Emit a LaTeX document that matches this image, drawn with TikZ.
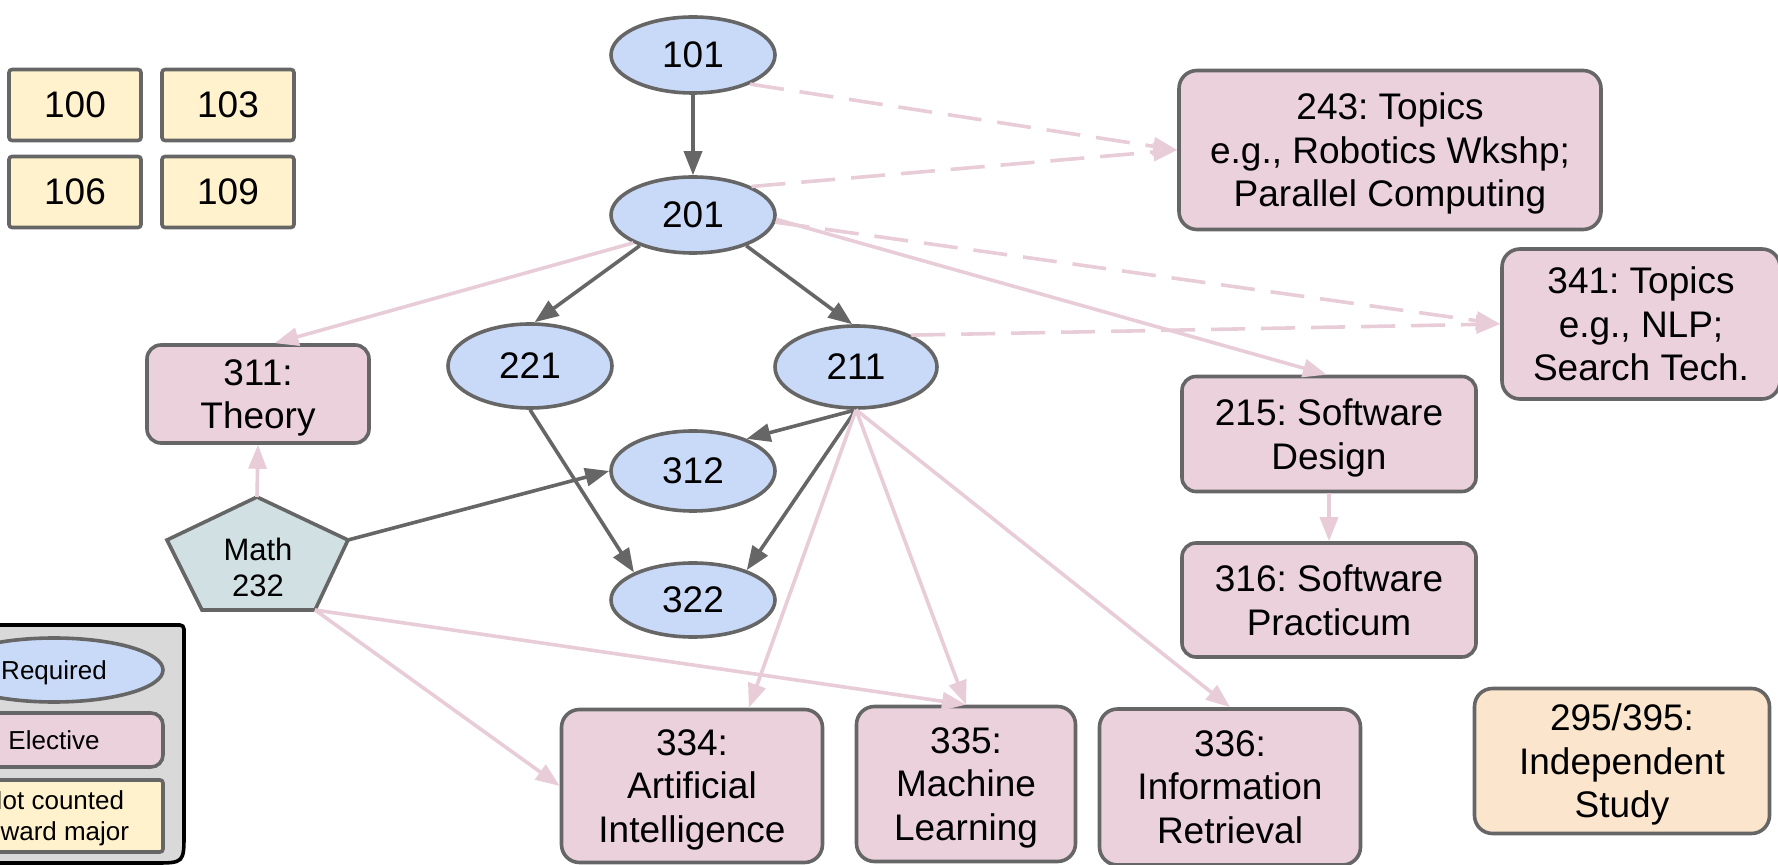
\documentclass[tikz,border=0pt]{standalone}
\usepackage{fontspec}
\setmainfont{Liberation Sans}
\frenchspacing
\usetikzlibrary{shapes.geometric, arrows.meta}

\definecolor{reqfill}{HTML}{C9DAF8}
\definecolor{elecfill}{HTML}{EAD1DC}
\definecolor{ncfill}{HTML}{FFF2CC}
\definecolor{mathfill}{HTML}{D0E0E3}
\definecolor{indfill}{HTML}{FCE5CD}
\definecolor{lgfill}{HTML}{D9D9D9}
\definecolor{edgegray}{HTML}{666666}
\definecolor{pinkline}{HTML}{E8CCD8}

\begin{document}
\begin{tikzpicture}[x=0.5pt, y=-0.5pt,
  bigfont/.style={font=\fontsize{18.5}{21.75}\selectfont},
  req/.style={ellipse, draw=edgegray, line width=1.8pt, fill=reqfill, inner sep=0pt, text depth=0pt, bigfont},
  elec/.style={rectangle, rounded corners=9pt, draw=edgegray, line width=1.8pt, fill=elecfill, inner sep=0pt, text depth=0pt, align=center, bigfont},
  nc/.style={rectangle, rounded corners=1.5pt, draw=edgegray, line width=1.8pt, fill=ncfill, inner sep=0pt, text depth=0pt, align=center, bigfont,
    minimum width=66pt, minimum height=35.5pt},
  ind/.style={rectangle, rounded corners=9pt, draw=edgegray, line width=1.8pt, fill=indfill, inner sep=0pt, text depth=0pt, align=center, bigfont},
  legfont/.style={font=\fontsize{13}{15.5}\selectfont},
  dk/.style={draw=edgegray, line width=1.8pt, -{Triangle[length=12pt,width=9pt]}},
  pk/.style={draw=pinkline, line width=1.8pt, -{Triangle[length=12pt,width=9pt]}},
  pkd/.style={pk, dash pattern=on 17pt off 8pt},
]
\useasboundingbox (0,0) rectangle (1778,865);
\clip (0,0) rectangle (1778,865);

% not counted courses
\node[nc] (c100) at (75,105) {100};
\node[nc] (c103) at (228,105) {103};
\node[nc] (c106) at (75,192) {106};
\node[nc] (c109) at (228,192) {109};

% required
\node[req, minimum width=82pt, minimum height=38pt] (n101) at (693,55) {101};
\node[req, minimum width=82pt, minimum height=38pt] (n201) at (693,215) {201};
\node[req, minimum width=82pt, minimum height=42pt] (n221) at (530,366) {221};
\node[req, minimum width=81pt, minimum height=41pt] (n211) at (856,367) {211};
\node[req, minimum width=82pt, minimum height=40pt] (n312) at (693,471) {312};
\node[req, minimum width=82pt, minimum height=37pt] (n322) at (693,600) {322};

% electives
\node[elec, rounded corners=7pt, minimum width=111pt, minimum height=49pt] (n311) at (258,394) {311:\\Theory};
\node[elec, minimum width=211pt, minimum height=79.5pt] (n243) at (1390,150) {243: Topics\\e.g., Robotics Wkshp;\\Parallel Computing};
\node[elec, minimum width=139pt, minimum height=75pt] (n341) at (1641,324) {341: Topics\\e.g., NLP;\\Search Tech.};
\node[elec, rounded corners=7pt, minimum width=147pt, minimum height=57.5pt] (n215) at (1329,434) {215: Software\\Design};
\node[elec, rounded corners=7pt, minimum width=147pt, minimum height=57pt] (n316) at (1329,600) {316: Software\\Practicum};
\node[elec, minimum width=130.5pt, minimum height=76.5pt] (n334) at (692,786) {334:\\Artificial\\Intelligence};
\node[elec, minimum width=109.5pt, minimum height=77.5pt] (n335) at (966,784) {335:\\Machine\\Learning};
\node[elec, minimum width=130.5pt, minimum height=78pt] (n336) at (1230,787) {336:\\Information\\Retrieval};
\node[ind, minimum width=147.5pt, minimum height=72.5pt] (n295) at (1622,761) {295/395:\\Independent\\Study};

% Math 232 pentagon
\coordinate (mT) at (257,497);
\coordinate (mL) at (167,540);
\coordinate (mR) at (348,540);
\coordinate (mBL) at (202,610);
\coordinate (mBR) at (315,610);
\draw[draw=edgegray, line width=1.8pt, fill=mathfill, line join=miter] (mT) -- (mR) -- (mBR) -- (mBL) -- (mL) -- cycle;
\node[align=center, font=\fontsize{15.5}{18}\selectfont, inner sep=0pt, text depth=0pt] (math) at (258,567) {Math\\232};

% legend
\draw[black, line width=1.8pt, fill=lgfill, rounded corners=2pt] (-80,625) -- (184,625) -- (184,829) .. controls (184,863) .. (150,863) -- (-80,863) -- cycle;
\node[req, legfont, minimum width=109pt, minimum height=32pt] (lreq) at (54,670) {Required};
\node[elec, legfont, rounded corners=6pt, minimum width=109pt, minimum height=27pt] (lelec) at (54,740) {Elective};
\node[nc, legfont, minimum width=109pt, minimum height=36pt] (lnc) at (54,816) {Not counted\\toward major};

% required connectors
\draw[dk] (n101) -- (n201);
\draw[dk] (n201.-150) -- (n221.84);
\draw[dk] (n201.-30) -- (n211.95);
\draw[dk] (n221.south) -- (n322.155);
\draw[dk] (n211.south) -- (n312.31);
\draw[dk] (n211.south) -- (n322.29);
\draw[dk] (mR) -- (n312.west);

% elective connectors
\draw[pk] (n201.-155) -- (n311.72);
\draw[pk] (n201.-3) -- (n215.92);
\draw[pk] (mT) -- (n311.south);
\draw[pk] (mBR) -- (n334.west);
\draw[pk] (mBR) -- (n335.north);
\draw[pk] (n211.south) -- (n334.54);
\draw[pk] (n211.south) -- (n335.north);
\draw[pk] (n211.south) -- (n336.north);
\draw[pk] (n215) -- (n316);

% dashed connectors
\draw[pkd] (n101.-27) -- (n243.west);
\draw[pkd] (n201.26) -- (n243.west);
\draw[pkd] (n201.-5) -- (n341.west);
\draw[pkd] (n211.30) -- (n341.west);
\end{tikzpicture}
\end{document}
